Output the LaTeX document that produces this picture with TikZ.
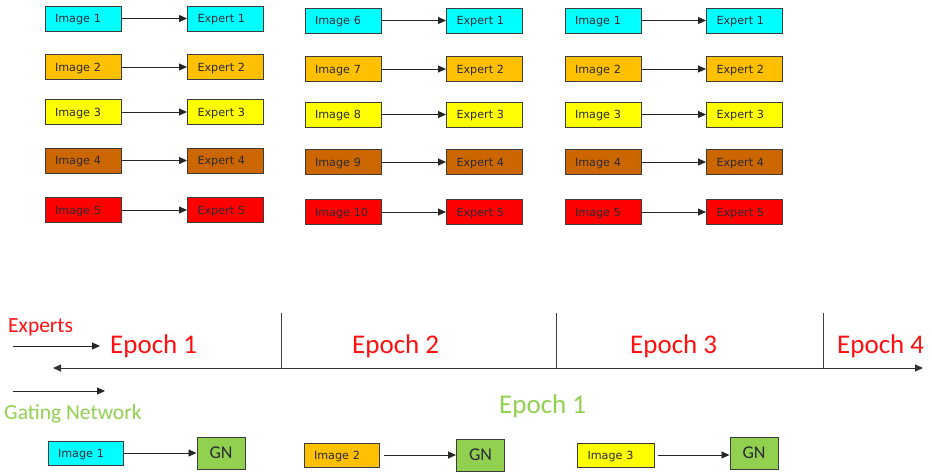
\documentclass[tikz,border=0pt]{standalone}
\usepackage{fontspec}
\setmainfont{Carlito}
\newfontfamily\boxfont{DejaVu Sans}
\usetikzlibrary{arrows.meta}

\definecolor{boxcyan}{HTML}{00FFFF}
\definecolor{boxorange}{HTML}{FFC000}
\definecolor{boxyellow}{HTML}{FFFF00}
\definecolor{boxbrown}{HTML}{CC6600}
\definecolor{boxred}{HTML}{FF0000}
\definecolor{gnfill}{HTML}{92D050}
\definecolor{edgegray}{HTML}{3C3C3C}
\definecolor{boxtext}{HTML}{2A2A35}
\definecolor{labred}{HTML}{FF1010}
\definecolor{labgreen}{HTML}{92D050}

\tikzset{
  imgbox/.style={draw=edgegray, line width=1pt, minimum width=76pt, minimum height=25pt,
    text width=56pt, inner xsep=10pt, inner ysep=0pt, align=left, text=boxtext,
    text height=8pt, text depth=0pt,
    font=\boxfont\fontsize{11.2}{12}\selectfont},
  gnbox/.style={draw=edgegray, line width=1pt, fill=gnfill, minimum width=48pt,
    minimum height=32pt, inner sep=0pt, text=boxtext, font=\fontsize{18}{20}\selectfont},
  flow/.style={-{Triangle[length=8pt,width=7pt]}, line width=0.9pt, black!85},
  timeline/.style={{Triangle[length=8pt,width=7pt]}-{Triangle[length=8pt,width=7pt]}, line width=1pt, black!80},
  tick/.style={line width=1pt, black!75},
  epochlab/.style={anchor=base west, inner sep=0pt, font=\fontsize{27}{30}\selectfont},
  sidelab/.style={anchor=base west, inner sep=0pt, font=\fontsize{21.5}{24}\selectfont},
}

\begin{document}
\begin{tikzpicture}[x=1pt, y=-1pt]
  \fill[white] (0,0) rectangle (932,475);
  \useasboundingbox (0,0) rectangle (932,475);

  % three rounds of image -> expert assignments
  \foreach \r/\col/\ya/\yb in {1/boxcyan/18.5/20.5, 2/boxorange/67/69, 3/boxyellow/112/114.5,
                               4/boxbrown/160.5/162, 5/boxred/210/212}{
    \pgfmathtruncatemacro\k{\r+5}
    \node[imgbox, fill=\col] (a-img-\r) at (83,\ya) {Image \r};
    \node[imgbox, fill=\col] (a-exp-\r) at (225.5,\ya) {Expert \r};
    \draw[flow] (a-img-\r) -- (a-exp-\r);
    \node[imgbox, fill=\col] (b-img-\r) at (343,\yb) {Image \k};
    \node[imgbox, fill=\col] (b-exp-\r) at (484.5,\yb) {Expert \r};
    \draw[flow] (b-img-\r) -- (b-exp-\r);
    \node[imgbox, fill=\col] (c-img-\r) at (603,\yb) {Image \r};
    \node[imgbox, fill=\col] (c-exp-\r) at (744.5,\yb) {Expert \r};
    \draw[flow] (c-img-\r) -- (c-exp-\r);
  }

  % time axis with epoch boundaries
  \coordinate (tl-start) at (53,368);
  \coordinate (tl-end) at (923,368);
  \draw[timeline] (tl-start) -- (tl-end);
  \foreach \x [count=\i] in {281,556,823}{
    \coordinate (tick-top-\i) at (\x,313);
    \coordinate (tick-bot-\i) at (\x,368);
    \draw[tick] (tick-top-\i) -- (tick-bot-\i);
  }

  % epoch labels
  \node[epochlab, text=labred] (ep1) at (110,353) {Epoch 1};
  \node[epochlab, text=labred] (ep2) at (352,353) {Epoch 2};
  \node[epochlab, text=labred] (ep3) at (630,353) {Epoch 3};
  \node[epochlab, text=labred] (ep4) at (837,353) {Epoch 4};
  \node[epochlab, text=labgreen] (gep1) at (499,413) {Epoch 1};

  % legend
  \node[sidelab, text=labred] (lg-exp) at (8,332) {Experts};
  \coordinate (lg-exp-a) at (13,346);
  \coordinate (lg-exp-b) at (100,346);
  \draw[flow] (lg-exp-a) -- (lg-exp-b);
  \coordinate (lg-gn-a) at (13,391);
  \coordinate (lg-gn-b) at (105,391);
  \draw[flow] (lg-gn-a) -- (lg-gn-b);
  \node[sidelab, text=labgreen] (lg-gn) at (4,419) {Gating Network};

  % gating network inputs
  \node[imgbox, fill=boxcyan, minimum width=75pt, minimum height=24pt, text width=55pt] (g-img-1) at (85.5,453) {Image 1};
  \node[gnbox] (gn-1) at (221,453) {GN};
  \draw[flow] (g-img-1) -- (gn-1);
  \node[imgbox, fill=boxorange, minimum width=75pt, minimum height=24pt, text width=55pt] (g-img-2) at (341.5,455) {Image 2};
  \node[gnbox] (gn-2) at (480.5,455) {GN};
  \draw[flow, shorten <=4pt] (g-img-2) -- (gn-2);
  \node[imgbox, fill=boxyellow, minimum width=77pt, minimum height=24pt, text width=56pt] (g-img-3) at (615.5,455) {Image 3};
  \node[gnbox] (gn-3) at (754,453) {GN};
  \draw[flow, shorten <=3pt] (g-img-3.east) -- (gn-3.west |- g-img-3.east);
\end{tikzpicture}
\end{document}
